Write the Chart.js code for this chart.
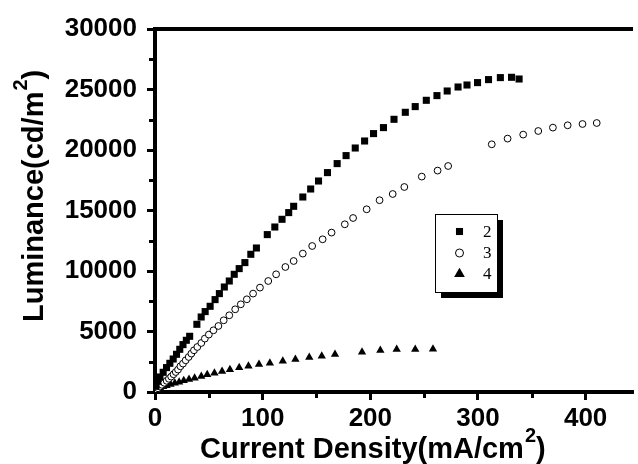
<!DOCTYPE html>
<html>
<head>
<meta charset="utf-8">
<script src="https://cdn.jsdelivr.net/npm/chart.js@4/dist/chart.umd.min.js"></script>
<style>
  html, body { margin: 0; padding: 0; background: #fff; }
</style>
</head>
<body>
<canvas id="lum-chart" width="638" height="464"></canvas>
<script>
// sample 2 (filled squares)
const s2X = [0.9, 2.3, 4.6, 7.6, 10.7, 13.8, 16.9, 20, 23, 26, 29.1, 32.2, 38.9, 42.9, 46.6, 51.2, 55.8, 59.8, 64.4, 69, 73.6, 78.2, 83.5, 89, 94.2, 104.3, 111.3, 118, 124.2, 128.8, 137.3, 144.6, 151.9, 160.2, 169.2, 177.5, 186, 194.7, 203, 212.2, 222, 232.5, 241.7, 252, 261.9, 271.4, 281.5, 289.8, 299.6, 309.8, 320.8, 331.2, 338.2];
const s2Y = [471, 884, 1240, 1628, 2017, 2372, 2727, 3116, 3529, 3917, 4273, 4603, 5595, 6198, 6645, 7083, 7636, 8132, 8678, 9174, 9727, 10198, 10694, 11380, 11901, 13008, 13636, 14273, 14826, 15347, 16116, 16777, 17438, 18132, 18876, 19537, 20165, 20744, 21355, 21851, 22537, 23116, 23587, 24107, 24496, 24876, 25207, 25372, 25570, 25818, 25983, 26008, 25868];

// sample 3 (open circles)
const s3X = [1.4, 2.8, 4.6, 6.4, 8.6, 10.8, 12.9, 15, 17.2, 19.3, 21.4, 23.6, 26, 28.5, 31.3, 33.8, 36.2, 39.3, 43, 46.3, 50, 54.3, 58.9, 63.8, 69, 74.5, 79.7, 85.3, 91.1, 97.5, 105.2, 112.5, 121.1, 128.8, 137.3, 146, 155.7, 164, 176.3, 184, 196.6, 208.6, 220.8, 231.6, 247.8, 262.5, 272.3, 312.8, 327.5, 342, 356, 369.6, 383.3, 397.1, 410.3];
const s3Y = [182, 306, 446, 595, 760, 926, 1091, 1273, 1463, 1653, 1851, 2124, 2347, 2620, 2893, 3174, 3446, 3719, 4050, 4413, 4744, 5099, 5455, 5926, 6339, 6835, 7248, 7661, 8132, 8628, 9174, 9727, 10331, 10826, 11438, 12066, 12620, 13174, 13860, 14380, 15099, 15850, 16364, 16942, 17802, 18298, 18678, 20471, 20942, 21273, 21570, 21851, 22041, 22149, 22231];

// sample 4 (filled triangles)
const s4X = [2.3, 4.6, 7.6, 10.8, 14.4, 18.4, 22.4, 26.7, 31.6, 36.8, 43, 48.5, 55.2, 62.3, 69.6, 78.2, 86.8, 96.6, 106.7, 118.7, 130.4, 143.3, 154.9, 167.2, 192.3, 209.3, 224.5, 241.7, 258.2];
const s4Y = [223, 364, 446, 529, 636, 744, 826, 942, 1050, 1157, 1298, 1438, 1570, 1711, 1851, 2017, 2149, 2289, 2397, 2562, 2702, 2868, 2975, 3116, 3306, 3446, 3529, 3529, 3554];

const seriesLabels = ['2', '3', '4'];
const xTickValues = [0, 100, 200, 300, 400];
const xMinorTicks = [50, 150, 250, 350];
const yMinorTicks = [2500, 7500, 12500, 17500, 22500, 27500];
const xTitle = ['Current Density(mA/cm', '2', ')'];
const yTitle = ['Luminance(cd/m', '2', ')'];

const SANS = '"Liberation Sans", Arial, sans-serif';
const SERIF = '"Liberation Serif", "Times New Roman", serif';

const toPoints = (xs, ys) => xs.map((x, i) => ({ x, y: ys[i] }));

const styles = [
  { pointStyle: 'rect', radius: 5, bg: '#000', border: '#000', bw: 0 },
  { pointStyle: 'circle', radius: 3.4, bg: '#fff', border: '#000', bw: 1 },
  { pointStyle: 'triangle', radius: 4.8, bg: '#000', border: '#000', bw: 0 },
];

function drawMarker(ctx, style, x, y, r) {
  ctx.beginPath();
  if (style === 'rect') {
    const s = r * Math.SQRT1_2;
    ctx.rect(x - s, y - s, 2 * s, 2 * s);
    ctx.fillStyle = '#000';
    ctx.fill();
  } else if (style === 'circle') {
    ctx.arc(x, y, r, 0, Math.PI * 2);
    ctx.fillStyle = '#fff';
    ctx.fill();
    ctx.lineWidth = 1;
    ctx.strokeStyle = '#000';
    ctx.stroke();
  } else {
    ctx.moveTo(x, y - r);
    ctx.lineTo(x + r * 0.866, y + r / 2);
    ctx.lineTo(x - r * 0.866, y + r / 2);
    ctx.closePath();
    ctx.fillStyle = '#000';
    ctx.fill();
  }
}

// text with a raised "2"
function drawSupText(ctx, parts, size) {
  ctx.font = `bold ${size}px ${SANS}`;
  ctx.fillText(parts[0], 0, 0);
  let w = ctx.measureText(parts[0]).width + 1;
  ctx.font = `bold ${Math.round(size * 0.68)}px ${SANS}`;
  ctx.fillText(parts[1], w, -16);
  w += ctx.measureText(parts[1]).width;
  ctx.font = `bold ${size}px ${SANS}`;
  ctx.fillText(parts[2], w, 0);
}

const decorations = {
  id: 'decorations',
  afterDraw(chart) {
    const { ctx, chartArea: a, scales: { x, y } } = chart;
    ctx.save();
    ctx.strokeStyle = '#000';
    ctx.lineWidth = 4;
    ctx.beginPath();
    ctx.moveTo(a.left - 2, a.top);
    ctx.lineTo(a.right, a.top);
    ctx.stroke();

    // minor ticks
    ctx.lineWidth = 3;
    ctx.beginPath();
    xMinorTicks.forEach((v) => {
      const px = Math.round(x.getPixelForValue(v)) + 0.5;
      ctx.moveTo(px, a.bottom);
      ctx.lineTo(px, a.bottom + 6);
    });
    yMinorTicks.forEach((v) => {
      const py = Math.round(y.getPixelForValue(v)) + 0.5;
      ctx.moveTo(a.left, py);
      ctx.lineTo(a.left - 6, py);
    });
    ctx.stroke();

    // axis titles
    ctx.fillStyle = '#000';
    ctx.textAlign = 'left';
    ctx.textBaseline = 'alphabetic';
    ctx.save();
    ctx.translate(200, 458);
    drawSupText(ctx, xTitle, 29);
    ctx.restore();
    ctx.save();
    ctx.translate(43, 322);
    ctx.rotate(-Math.PI / 2);
    drawSupText(ctx, yTitle, 29);
    ctx.restore();

    // legend box with shadow
    const lx = 435, ly = 214, lw = 62, lh = 78;
    ctx.fillStyle = '#000';
    ctx.fillRect(lx + 6, ly + 6, lw, lh);
    ctx.fillStyle = '#fff';
    ctx.fillRect(lx, ly, lw, lh);
    ctx.lineWidth = 1;
    ctx.strokeStyle = '#000';
    ctx.strokeRect(lx + 0.5, ly + 0.5, lw, lh);
    const rowY = [231.5, 253, 274];
    const legendR = [5, 4, 6.2];
    seriesLabels.forEach((label, i) => {
      drawMarker(ctx, styles[i].pointStyle, 459.5, rowY[i], legendR[i]);
      ctx.fillStyle = '#000';
      ctx.font = `17px ${SERIF}`;
      ctx.textBaseline = 'middle';
      ctx.fillText(label, 483, rowY[i] + 1);
    });
    ctx.restore();
  },
};

const tickFont = { family: SANS, size: 26, weight: 'bold' };

new Chart(document.getElementById('lum-chart'), {
  type: 'scatter',
  data: {
    datasets: [
      { label: seriesLabels[0], data: toPoints(s2X, s2Y) },
      { label: seriesLabels[1], data: toPoints(s3X, s3Y) },
      { label: seriesLabels[2], data: toPoints(s4X, s4Y) },
    ].map((ds, i) => ({
      ...ds,
      pointStyle: styles[i].pointStyle,
      pointRadius: styles[i].radius,
      pointBackgroundColor: styles[i].bg,
      pointBorderColor: styles[i].border,
      pointBorderWidth: styles[i].bw,
      showLine: false,
    })),
  },
  options: {
    responsive: false,
    animation: false,
    layout: {
      padding: { top: 29, right: 0, left: 0, bottom: 0 },
    },
    plugins: {
      legend: { display: false },
      tooltip: { enabled: false },
    },
    scales: {
      x: {
        type: 'linear',
        min: 0,
        max: 444,
        border: { color: '#000', width: 4 },
        grid: {
          drawOnChartArea: false,
          drawTicks: true,
          tickLength: 8,
          tickWidth: 3,
          tickColor: '#000',
        },
        ticks: {
          stepSize: 100,
          color: '#000',
          font: tickFont,
          padding: 3,
          maxRotation: 0,
          callback: (v) => String(v),
        },
        afterBuildTicks: (scale) => {
          scale.ticks = xTickValues.map((v) => ({ value: v }));
        },
        afterFit: (scale) => {
          scale.height = 72;
        },
      },
      y: {
        type: 'linear',
        min: 0,
        max: 30000,
        border: { color: '#000', width: 4 },
        grid: {
          drawOnChartArea: false,
          drawTicks: true,
          tickLength: 8,
          tickWidth: 3,
          tickColor: '#000',
        },
        ticks: {
          stepSize: 5000,
          color: '#000',
          font: tickFont,
          padding: 10,
          callback: (v) => String(v),
        },
        afterFit: (scale) => {
          scale.width = 155;
        },
      },
    },
  },
  plugins: [decorations],
});
</script>
</body>
</html>
